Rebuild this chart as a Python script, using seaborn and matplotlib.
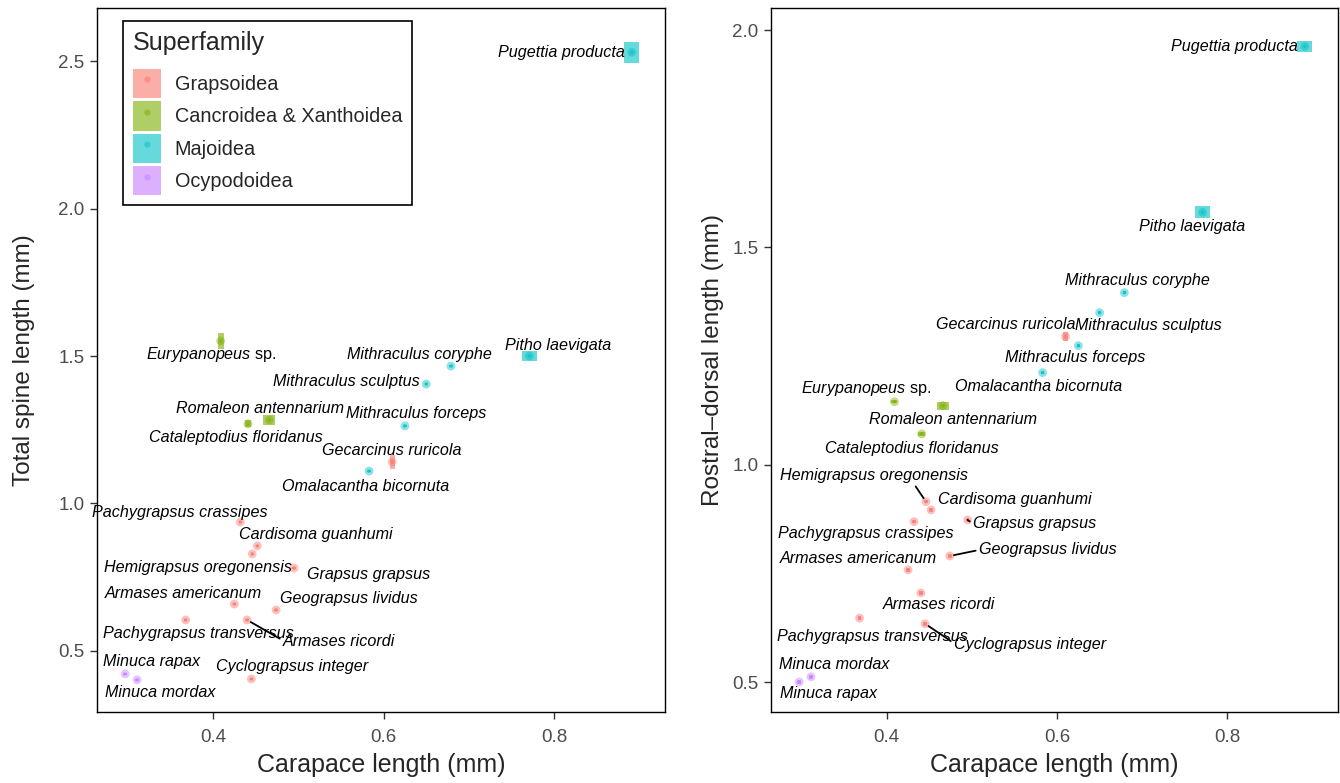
import numpy as np
import pandas as pd
import matplotlib
matplotlib.use("Agg")
import matplotlib.pyplot as plt
from matplotlib.patches import Rectangle, Patch
from matplotlib.lines import Line2D
from matplotlib.colors import to_rgb
import seaborn as sns

# ---- data -------------------------------------------------------------
species = [
    "Pugettia producta", "Pitho laevigata", "Mithraculus coryphe",
    "Mithraculus sculptus", "Mithraculus forceps", "Omalacantha bicornuta",
    "Gecarcinus ruricola", "Eurypanopeus sp.", "Romaleon antennarium",
    "Cataleptodius floridanus", "Pachygrapsus crassipes", "Cardisoma guanhumi",
    "Hemigrapsus oregonensis", "Grapsus grapsus", "Armases americanum",
    "Geograpsus lividus", "Pachygrapsus transversus", "Armases ricordi",
    "Cyclograpsus integer", "Minuca rapax", "Minuca mordax",
]
superfamily = [
    "Majoidea", "Majoidea", "Majoidea", "Majoidea", "Majoidea", "Majoidea",
    "Grapsoidea", "Cancroidea & Xanthoidea", "Cancroidea & Xanthoidea",
    "Cancroidea & Xanthoidea", "Grapsoidea", "Grapsoidea", "Grapsoidea",
    "Grapsoidea", "Grapsoidea", "Grapsoidea", "Grapsoidea", "Grapsoidea",
    "Grapsoidea", "Ocypodoidea", "Ocypodoidea",
]
carapace = [0.891, 0.771, 0.679, 0.650, 0.625, 0.583, 0.610, 0.409, 0.466,
            0.441, 0.432, 0.452, 0.446, 0.495, 0.425, 0.474, 0.368, 0.440,
            0.445, 0.297, 0.311]
carapace_se = [0.009, 0.009, 0.002, 0.002, 0.002, 0.002, 0.003, 0.0035, 0.007,
               0.004, 0.002, 0.002, 0.002, 0.002, 0.002, 0.002, 0.002, 0.002,
               0.002, 0.002, 0.002]
spine = [2.53, 1.50, 1.466, 1.405, 1.263, 1.110, 1.141, 1.551, 1.283,
         1.270, 0.937, 0.856, 0.829, 0.781, 0.659, 0.639, 0.605, 0.605,
         0.405, 0.422, 0.402]
spine_se = [0.036, 0.017, 0.004, 0.004, 0.004, 0.004, 0.025, 0.027, 0.017,
            0.012, 0.004, 0.004, 0.004, 0.004, 0.004, 0.004, 0.004, 0.004,
            0.004, 0.004, 0.004]
rostral = [1.963, 1.581, 1.396, 1.350, 1.274, 1.212, 1.295, 1.145, 1.136,
           1.071, 0.869, 0.896, 0.915, 0.873, 0.758, 0.790, 0.647, 0.705,
           0.634, 0.500, 0.512]
rostral_se = [0.013, 0.014, 0.004, 0.004, 0.004, 0.004, 0.010, 0.004, 0.009,
              0.004, 0.004, 0.004, 0.004, 0.004, 0.004, 0.004, 0.004, 0.004,
              0.004, 0.004, 0.004]

groups = ["Grapsoidea", "Cancroidea & Xanthoidea", "Majoidea", "Ocypodoidea"]
colors = ["#F8766D", "#7CAE00", "#00BFC4", "#C77CFF"]

df = pd.DataFrame({
    "species": species, "superfamily": superfamily,
    "cl": carapace, "cl_se": carapace_se,
    "spine": spine, "spine_se": spine_se,
    "rostral": rostral, "rostral_se": rostral_se,
})

# ---- label placement: pixel offsets (right, up) from the point ----------
# (dx, dy, relpos of the leader line on the text, or None for no line)
labels_spine = {
    "Pugettia producta": (-70, 0, None), "Pitho laevigata": (29, 11, None),
    "Mithraculus coryphe": (-32, 12, None), "Mithraculus sculptus": (-80, 3, None),
    "Mithraculus forceps": (11, 12, None), "Omalacantha bicornuta": (-3, -15, None),
    "Gecarcinus ruricola": (0, 11, None), "Eurypanopeus sp.": (-9, -13, None),
    "Romaleon antennarium": (-9, 12, None), "Cataleptodius floridanus": (-12, -14, None),
    "Pachygrapsus crassipes": (-60, 10, None), "Cardisoma guanhumi": (58, 11, None),
    "Hemigrapsus oregonensis": (-54, -14, None), "Grapsus grapsus": (75, -6, None),
    "Armases americanum": (-51, 11, None), "Geograpsus lividus": (73, 11, None),
    "Pachygrapsus transversus": (13, -14, None), "Armases ricordi": (92, -22, (0.0, 0.6)),
    "Cyclograpsus integer": (41, 12, None), "Minuca rapax": (26, 12, None),
    "Minuca mordax": (23, -13, None),
}
labels_rostral = {
    "Pugettia producta": (-70, 0, None), "Pitho laevigata": (-11, -14, None),
    "Mithraculus coryphe": (13, 12, None), "Mithraculus sculptus": (49, -13, None),
    "Mithraculus forceps": (-3, -12, None), "Omalacantha bicornuta": (-4, -14, None),
    "Gecarcinus ruricola": (-60, 12, None), "Eurypanopeus sp.": (-28, 13, None),
    "Romaleon antennarium": (10, -14, None), "Cataleptodius floridanus": (-10, -15, None),
    "Pachygrapsus crassipes": (-48, -12, None), "Cardisoma guanhumi": (84, 10, None),
    "Hemigrapsus oregonensis": (-52, 26, (0.71, 0.0)), "Grapsus grapsus": (67, -4, (0.0, 0.5)),
    "Armases americanum": (-50, 11, None), "Geograpsus lividus": (98, 6, (0.0, 0.5)),
    "Pachygrapsus transversus": (13, -18, None), "Armases ricordi": (18, -12, None),
    "Cyclograpsus integer": (105, -21, (0.0, 0.6)), "Minuca mordax": (23, 12, None),
    "Minuca rapax": (29, -11, None),
}


def blend(c, a):
    r = np.array(to_rgb(c))
    return tuple(a * r + (1 - a))


# ---- style --------------------------------------------------------------
sns.set_theme(style="ticks")
plt.rcParams["font.family"] = ["Liberation Sans", "DejaVu Sans"]
plt.rcParams.update({
    "axes.edgecolor": "black", "axes.linewidth": 1.0,
    "xtick.color": "#333333", "ytick.color": "#333333",
    "xtick.labelcolor": "#4d4d4d", "ytick.labelcolor": "#4d4d4d",
    "xtick.major.size": 5, "ytick.major.size": 5,
    "xtick.major.width": 1.0, "ytick.major.width": 1.0,
    "xtick.major.pad": 7, "ytick.major.pad": 4,
    "xtick.labelsize": 13.5, "ytick.labelsize": 13.5,
    "mathtext.fontset": "custom",
    "mathtext.rm": "Liberation Sans",
    "mathtext.it": "Liberation Sans:italic",
})

fig = plt.figure(figsize=(13.4, 7.83), dpi=100)
ax1 = fig.add_axes([0.0724, 0.0907, 0.4239, 0.899])
ax2 = fig.add_axes([0.5754, 0.0907, 0.4231, 0.899])

palette = dict(zip(groups, colors))


def draw_panel(ax, ycol, secol, labels, ylabel, ylabelpad, xlim, ylim, yticks):
    ax.set_xlim(*xlim)
    ax.set_ylim(*ylim)
    # standard-error boxes
    for _, r in df.iterrows():
        c = blend(palette[r["superfamily"]], 0.6)
        ax.add_patch(Rectangle((r["cl"] - r["cl_se"], r[ycol] - r[secol]),
                               2 * r["cl_se"], 2 * r[secol],
                               facecolor=c, edgecolor="none", zorder=2))
    # means
    sns.scatterplot(data=df, x="cl", y=ycol, hue="superfamily", hue_order=groups,
                    palette=palette, s=40, alpha=0.45, linewidth=0,
                    legend=False, ax=ax, zorder=3)
    sns.scatterplot(data=df, x="cl", y=ycol, hue="superfamily", hue_order=groups,
                    palette=palette, s=7, alpha=0.6, linewidth=0,
                    legend=False, ax=ax, zorder=4)
    # species labels
    for _, r in df.iterrows():
        dx, dy, rel = labels[r["species"]]
        kw = {}
        if rel is not None:
            kw["arrowprops"] = dict(arrowstyle="-", color="black", lw=1.3,
                                    shrinkA=0, shrinkB=3, relpos=rel)
        name = r["species"]
        style = "italic"
        if name.endswith(" sp."):
            # genus in italics, "sp." upright
            name = "$\\it{" + name[:-4] + "}$ sp."
            style = "normal"
        ax.annotate(name, (r["cl"], r[ycol]),
                    xytext=(dx, dy), textcoords="offset pixels",
                    ha="center", va="center", fontsize=11.6,
                    style=style, color="black", zorder=5, **kw)
    ax.set_xticks([0.4, 0.6, 0.8])
    ax.set_xticklabels(["0.4", "0.6", "0.8"])
    ax.set_yticks(yticks)
    ax.set_yticklabels([f"{t:.1f}" for t in yticks])
    ax.set_xlabel("Carapace length (mm)", fontsize=18, labelpad=5)
    ax.set_ylabel(ylabel, fontsize=17.5, labelpad=ylabelpad)
    for s in ax.spines.values():
        s.set_visible(True)
        s.set_color("black")


draw_panel(ax1, "spine", "spine_se", labels_spine, "Total spine length (mm)", 17,
           (0.264, 0.930), (0.293, 2.68), [0.5, 1.0, 1.5, 2.0, 2.5])
draw_panel(ax2, "rostral", "rostral_se", labels_rostral, "Rostral\u2013dorsal length (mm)", 6,
           (0.264, 0.930), (0.431, 2.051), [0.5, 1.0, 1.5, 2.0])

# legend with filled square keys and a centred dot
handles = [(Patch(facecolor=blend(c, 0.6), edgecolor="none"),
            Line2D([], [], marker="o", linestyle="none", markersize=4.5,
                   markerfacecolor=c, markeredgewidth=0, alpha=0.5))
           for c in colors]
leg = ax1.legend(handles, groups, title="Superfamily", loc="upper left",
                 bbox_to_anchor=(0.0458, 0.9815), borderaxespad=0,
                 fontsize=14.3, title_fontsize=18, handlelength=1.4,
                 handleheight=1.9, labelspacing=0.15, handletextpad=0.7,
                 frameon=True, fancybox=False, framealpha=1,
                 edgecolor="black", alignment="left", borderpad=0.5)
leg._legend_box.sep = 10
leg.get_frame().set_linewidth(1.2)

fig.savefig("out.png", dpi=100)
